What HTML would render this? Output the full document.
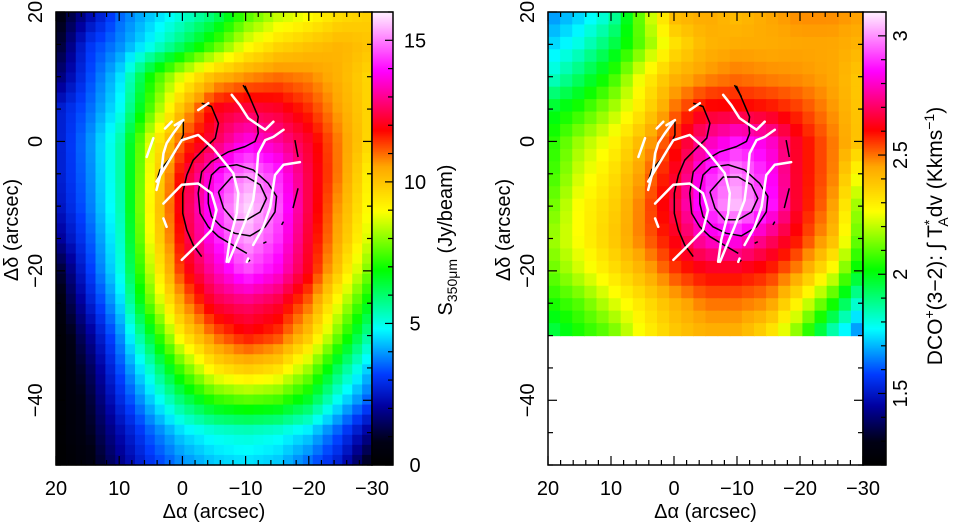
<!DOCTYPE html>
<html><head><meta charset="utf-8"><style>
html,body{margin:0;padding:0;background:#fff;width:960px;height:522px;overflow:hidden}
svg{display:block;font-family:"Liberation Sans",sans-serif}
</style></head><body>
<svg id="chart" width="960" height="522" viewBox="0 0 960 522" xmlns="http://www.w3.org/2000/svg"></svg>
<script>
// ---------- data ----------
const xGrid=[20,15,10,5,0,-5,-10,-15,-20,-25,-30];
const yGridL=[20,15,10,5,0,-5,-10,-15,-20,-25,-30,-35,-40,-45,-50];
const fluxRows=[
[0.5,2,3.5,4.3,5,5.8,7.3,8.3,8.8,9.5,9.8],
[0.8,3,3.8,4.8,6,7.3,8.8,9.6,10,10.3,10],
[1.5,3.2,4.5,7,8.8,10.2,10.7,11,10.8,10.3,9.6],
[2.5,3.5,4.8,7.6,10.2,12,12.4,12.2,11.5,10.5,9.6],
[2.5,3.8,5.4,8.8,11.2,12.5,13.8,13.2,12.2,10.8,9.5],
[2.5,3.7,5.4,9,12,13.8,15.2,14.3,12.4,10.8,9],
[2.3,3.6,5.3,9.2,12.2,14.2,15.9,14.7,12.4,10.5,8.8],
[1.8,3.3,5.1,9,12,14,15.4,14.4,12.2,10.3,8.4],
[0.8,3,4.9,8.5,11.6,13.3,14.6,13.8,12,9.8,7.6],
[0.3,2.5,4.4,7.8,10.6,12.3,12.8,12.3,11,8.7,6.5],
[0,1.8,3.8,6.5,9.4,11,11.8,11.4,10,7.6,5.3],
[0,1.3,3.3,5.3,7.6,9.4,10,9.6,8.2,6,4.2],
[0,1,2.8,4.4,6,7.2,7.6,7.4,6.5,4.7,3.3],
[0,0.8,2.2,3.5,4.5,5,5.2,5,4.5,3.3,1.8],
[0,0.5,1.8,3,3.8,4.3,4.5,4.3,3.5,2.5,0.5]];
const yGridR=[20,15,10,5,0,-5,-10,-15,-20,-25,-30];
const dcoRows=[
[1.65,1.72,1.82,2.15,2.42,2.45,2.4,2.45,2.48,2.48,2.46],
[1.72,1.8,1.93,2.12,2.32,2.42,2.44,2.44,2.45,2.45,2.42],
[1.8,1.92,2.05,2.27,2.42,2.47,2.5,2.48,2.47,2.45,2.37],
[1.97,2.05,2.17,2.32,2.5,2.62,2.62,2.6,2.55,2.47,2.37],
[2.03,2.17,2.27,2.42,2.58,2.77,2.87,2.82,2.62,2.5,2.37],
[2.05,2.22,2.32,2.47,2.63,2.87,3.0,2.87,2.62,2.5,2.22],
[2.1,2.27,2.35,2.5,2.67,2.9,3.05,2.9,2.62,2.47,2.1],
[2.15,2.27,2.37,2.5,2.62,2.8,2.85,2.72,2.58,2.42,2.05],
[2.1,2.22,2.32,2.42,2.55,2.62,2.62,2.58,2.47,2.27,1.95],
[2.03,2.1,2.22,2.32,2.42,2.5,2.5,2.47,2.27,2.05,1.77],
[1.92,2.03,2.1,2.27,2.37,2.42,2.42,2.32,2.1,1.82,1.6]];
const blackContours=[
[[-5.7,-7.8],[-7.8,-5.5],[-10.2,-5.5],[-12.3,-6.7],[-13.3,-8.8],[-12.3,-10.9],[-10.2,-12.1],[-8.05,-12.1],[-6.5,-10.3],[-5.7,-7.8]],
[[-4.1,-7.5],[-4.6,-5.2],[-5.9,-4.0],[-8.6,-3.6],[-11.2,-4.4],[-13.6,-6.5],[-14.9,-8.5],[-14.65,-10.9],[-13.1,-13.2],[-10.7,-14.6],[-8.3,-14.2],[-6.2,-13.2],[-4.6,-11.6],[-4.1,-9.6],[-4.1,-7.5]],
[[-10.2,-17.3],[-7.5,-15.75],[-5.7,-14.7],[-4.1,-13.2],[-2.8,-11.1],[-2.5,-8.0],[-3.05,-4.7],[-4.6,-3.1],[-7.3,-1.6],[-9.9,-0.8],[-11.5,0],[-12.0,1.25],[-11.85,2.8],[-12.0,3.8],[-9.9,8.6]],
[[-3.05,5.9],[-4.6,5.4],[-5.7,2.8],[-5.2,0.5],[-3.3,-1.3],[-1.7,-2.9],[-0.7,-5.2],[-0.05,-8.0],[-0.05,-11.1],[-0.7,-13.7],[-1.7,-16.0],[-3.05,-17.8]],
[[-0.15,3.05],[-0.15,1.0],[0.9,-1.3],[2.2,-2.9],[3.55,-4.4],[4.1,-6.2]],
[[-17.8,0.2],[-18.3,-2.4]],[[-18.3,-7.25],[-17.5,-10.3]],[[-16,-12.4],[-15.7,-12.9]],
[[-12.8,-15.75],[-13.3,-15.5]],[[-10.4,-18.6],[-10.7,-18.3]],[[-9.6,8.7],[-10.7,6.9]]];
const whiteLines=[
[[5.65,-2.4],[4.6,0.5]],
[[2.75,2.0],[1.7,3.05]],
[[1.2,2.5],[-0.15,3.3]],
[[4.1,-7.5],[3.3,-4.4],[3.0,-1.85],[2.5,-0.3],[1.45,1.25],[0.1,3.05]],
[[4.1,-6.2],[0.1,0.2],[-2.5,1.0],[-4.9,-1.1],[-8.05,-4.9],[-8.85,-8.0],[-8.6,-11.1],[-7.5,-15.2],[-7.0,-18.6]],
[[3.0,-9.6],[0.1,-6.7],[-2.5,-6.5],[-4.6,-8.0],[-5.4,-10.6],[-4.6,-13.7],[-2.0,-16.3],[0.1,-18.3]],
[[-7.8,7.2],[-9.1,5.6],[-10.4,3.6],[-13.1,1.8],[-14.4,3.05]],
[[-16.0,1.8],[-14.4,0.7],[-13.1,0.2],[-12.0,-1.85],[-11.75,-4.9],[-11.2,-9.1],[-9.6,-13.2],[-7.3,-18.6]],
[[-18.6,-3.2],[-16.0,-3.6],[-14.65,-5.2],[-13.9,-10.1],[-12.8,-13.2],[-11.2,-16.0]],
[[-2.5,4.85],[-4.1,5.9]],
[[3.0,-11.9],[2.5,-13.2]],
[[-10.2,-18.6],[-10.4,-18.1]]];
const xTickLabels=["20","10","0","\u221210","\u221220","\u221230"];
const yTickLabels=["20","0","\u221220","\u221240"];
const cbarLTicks=["0","5","10","15"];
const cbarRTicks=["1.5","2","2.5","3"];

// ---------- helpers ----------
const NS="http://www.w3.org/2000/svg";
const svg=document.getElementById('chart');
function mk(tag,attrs,parent){const e=document.createElementNS(NS,tag);for(const k in attrs)e.setAttribute(k,attrs[k]);(parent||svg).appendChild(e);return e;}
const stops=[[0,[0,0,0]],[0.05,[0,0,20]],[0.13,[0,0,160]],[0.2,[0,60,255]],[0.3,[0,255,255]],[0.43,[0,255,0]],[0.56,[255,255,0]],[0.66,[255,165,0]],[0.74,[255,0,0]],[0.87,[255,0,255]],[1,[255,240,255]]];
function cmap(t){t=Math.max(0,Math.min(1,t));for(let i=1;i<stops.length;i++){if(t<=stops[i][0]){const a=stops[i-1],b=stops[i];const f=(t-a[0])/(b[0]-a[0]);const c=a[1].map((v,j)=>Math.round(v+(b[1][j]-v)*f));return`rgb(${c[0]},${c[1]},${c[2]})`;}}return'rgb(255,240,255)';}
function sample(rows,yg,x,y){
  let fx=(20-x)/5, fy=(yg[0]-y)/5;
  fx=Math.max(0,Math.min(xGrid.length-1.0001,fx));fy=Math.max(0,Math.min(yg.length-1.0001,fy));
  const i=Math.floor(fx),j=Math.floor(fy),u=fx-i,v=fy-j;
  return rows[j][i]*(1-u)*(1-v)+rows[j][i+1]*u*(1-v)+rows[j+1][i]*(1-u)*v+rows[j+1][i+1]*u*v;}

function panel(o){
  const sx=x=>o.x0+(20-x)*(o.x1-o.x0)/50;
  const sy=y=>12+(20-y)*453/70;
  const g=mk('g',{});
  
  
  const hm=mk('g',{},g);
  
  
  const yTop=20,yBot=o.yBot;
  const cw=50/o.nc,ch=(yTop-yBot)/o.nr;
  for(let r=0;r<o.nr;r++)for(let c=0;c<o.nc;c++){
    const xc=20-(c+0.5)*cw,yc=yTop-(r+0.5)*ch;
    const v=sample(o.rows,o.yg,xc,yc);
    const x1=sx(20-c*cw),x2=sx(20-(c+1)*cw),y1=sy(yTop-r*ch),y2=sy(yTop-(r+1)*ch);
    const rc=mk('rect',{x:x1,y:y1,width:x2-x1+0.6,height:y2-y1+0.6,fill:cmap((v-o.vmin)/(o.vmax-o.vmin))},hm);
    
    
  }
  blackContours.forEach(p=>{const l=mk('polyline',{points:p.map(q=>sx(q[0])+','+sy(q[1])).join(' '),fill:'none',stroke:'#000','stroke-width':1.5,'stroke-linejoin':'round'},g);
    
    });
  whiteLines.forEach(p=>{const l=mk('polyline',{points:p.map(q=>sx(q[0])+','+sy(q[1])).join(' '),fill:'none',stroke:'#fff','stroke-width':2.5,'stroke-linejoin':'round','stroke-linecap':'round'},g);
    
    });
  const fr=mk('rect',{x:o.x0,y:12,width:o.x1-o.x0,height:453,fill:'none',stroke:'#000','stroke-width':1.5},g);
  
  
  for(let x=20;x>=-30;x-=2){const L=(x%10===0)?9:5;
    mk('line',{x1:sx(x),x2:sx(x),y1:465,y2:465-L,stroke:'#000','stroke-width':1.2},g);
    mk('line',{x1:sx(x),x2:sx(x),y1:12,y2:12+L,stroke:'#000','stroke-width':1.2},g);}
  for(let y=20;y>=-50;y-=5){const L=(y%20===0)?9:5;
    mk('line',{x1:o.x0,x2:o.x0+L,y1:sy(y),y2:sy(y),stroke:'#000','stroke-width':1.2},g);
    mk('line',{x1:o.x1,x2:o.x1-L,y1:sy(y),y2:sy(y),stroke:'#000','stroke-width':1.2},g);}
  xTickLabels.forEach((t,i)=>{const e=mk('text',{x:sx(20-10*i),y:495,'text-anchor':'middle','font-size':20},g);e.textContent=t;
    
    });
  yTickLabels.forEach((t,i)=>{const yy=sy(20-20*i);const e=mk('text',{x:0,y:0,'text-anchor':'middle','font-size':20,transform:`translate(${o.ylx},${yy}) rotate(-90)`},g);e.textContent=t;
    
    });
  const xt=mk('text',{x:(o.x0+o.x1)/2,y:518,'text-anchor':'middle','font-size':20},g);xt.textContent='\u0394\u03b1 (arcsec)';
  
  
  const yt=mk('text',{x:0,y:0,'text-anchor':'middle','font-size':20,transform:`translate(${o.ytx},230) rotate(-90)`},g);yt.textContent='\u0394\u03b4 (arcsec)';
  
  
  const cb=mk('g',{},g);
  
  
  for(let k=0;k<226;k++){const t=k/226;mk('rect',{x:o.x1,y:465-(k+1)*2,width:o.cbw,height:2.6,fill:cmap(t)},cb);}
  mk('rect',{x:o.x1,y:12,width:o.cbw,height:453,fill:'none',stroke:'#000','stroke-width':1.5},cb);
  const cy=v=>465-(v-o.vmin)/(o.vmax-o.vmin)*453;
  for(let v=Math.ceil(o.vmin/o.minor)*o.minor;v<=o.vmax+1e-9;v+=o.minor){
    const isMaj=Math.abs(v/o.major-Math.round(v/o.major))<1e-6;
    mk('line',{x1:o.x1+o.cbw,x2:o.x1+o.cbw-(isMaj?8:5),y1:cy(v),y2:cy(v),stroke:'#000','stroke-width':1.2},cb);}
  o.cbLabels.forEach((t,i)=>{const v=o.cbVals[i];let e;
    if(o.rotCb){e=mk('text',{x:0,y:0,'text-anchor':'middle','font-size':20,transform:`translate(${o.cblx},${cy(v)}) rotate(-90)`},cb);}
    else{e=mk('text',{x:o.cblx,y:cy(v)+7,'text-anchor':'middle','font-size':20},cb);}
    e.textContent=t;
    
    });
  return {sx,sy};
}
panel({name:'left-panel',x0:56,x1:372,yBot:-50,nc:32,nr:45,rows:fluxRows,yg:yGridL,vmin:0,vmax:16,cbw:21,minor:1,major:5,
  cbLabels:cbarLTicks,cbVals:[0,5,10,15],rotCb:false,cblx:415,ylx:42,ytx:18});
panel({name:'right-panel',x0:548,x1:863,yBot:-30,nc:26,nr:26,rows:dcoRows,yg:yGridR,vmin:1.2,vmax:3.1,cbw:23,minor:0.1,major:0.5,
  cbLabels:cbarRTicks,cbVals:[1.5,2,2.5,3],rotCb:true,cblx:907,ylx:534,ytx:510});
let t1=mk('text',{x:0,y:0,'text-anchor':'middle','font-size':20,transform:'translate(452,240) rotate(-90)'});
t1.innerHTML='S<tspan font-size="14" dy="5">350\u03bcm</tspan><tspan dy="-5">  (Jy/beam)</tspan>';


let t2=mk('text',{x:0,y:0,'text-anchor':'middle','font-size':21,transform:'translate(942,236) rotate(-90)'});
t2.innerHTML='DCO<tspan font-size="14" dy="-8">+</tspan><tspan dy="8">(3\u22122):  \u222b T</tspan><tspan font-size="14" dy="-8">*</tspan><tspan font-size="14" dy="14" dx="-7">A</tspan><tspan dy="-6">dv  (Kkms</tspan><tspan font-size="14" dy="-8">\u22121</tspan><tspan dy="8">)</tspan>';


</script>
</body></html>
